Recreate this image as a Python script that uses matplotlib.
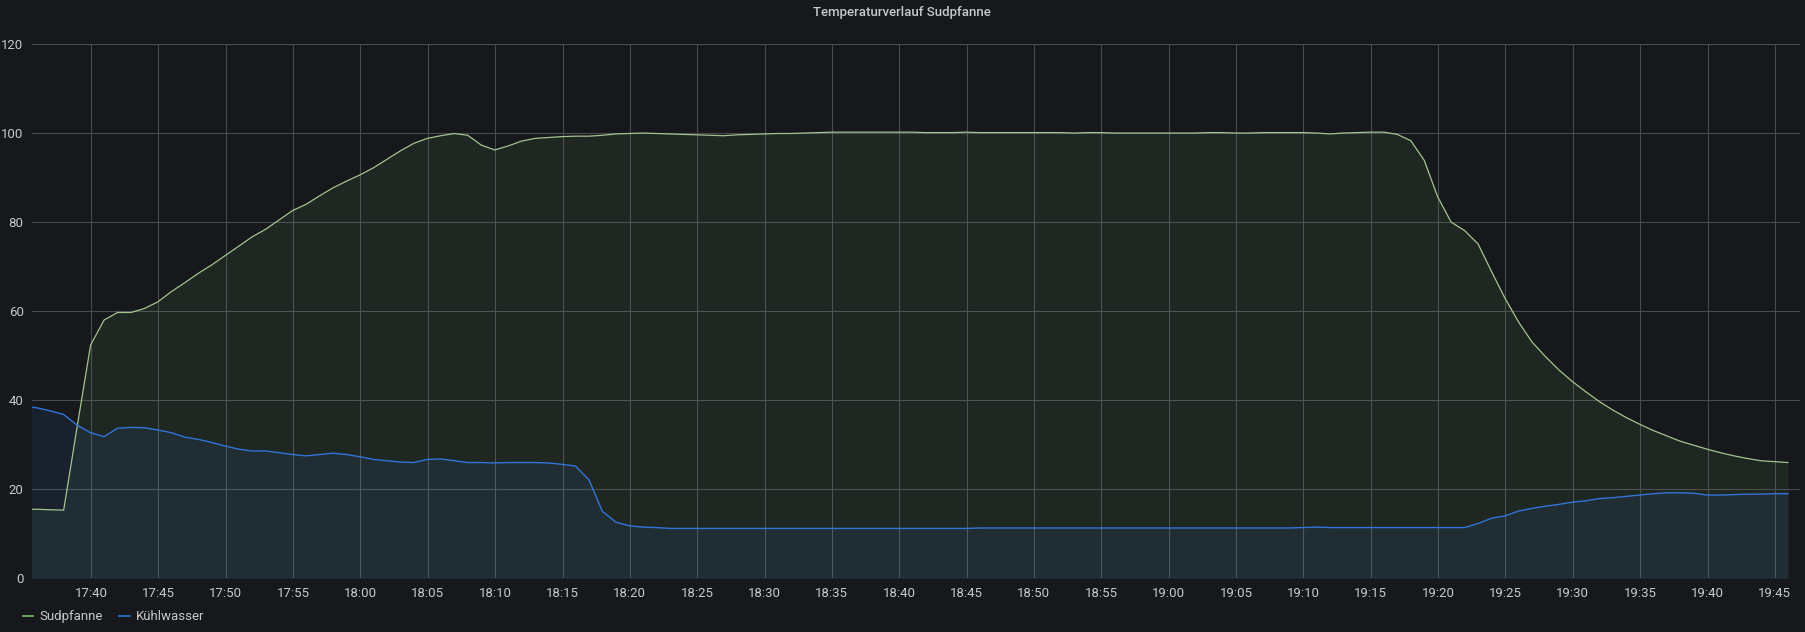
import matplotlib
matplotlib.use('Agg')
import matplotlib.pyplot as plt
import matplotlib.dates as mdates
from matplotlib.lines import Line2D
import pandas as pd

# one sample per minute, 17:34:58 .. 19:45:58
times = pd.date_range('2021-03-20 17:34:58', periods=132, freq='min')

sudpfanne = [
    # 17:35 - 17:59
    15.5, 15.5, 15.4, 15.3, 34.0, 52.4, 58.0, 59.7, 59.7, 60.6,
    62.1, 64.4, 66.4, 68.5, 70.4, 72.5, 74.6, 76.7, 78.4, 80.5,
    82.6, 84.0, 85.9, 87.7, 89.2,
    # 18:00 - 18:59
    90.6, 92.2, 94.1, 96.0, 97.7, 98.8, 99.4, 99.9, 99.5, 97.3,
    96.2, 97.1, 98.2, 98.8, 99.0, 99.2, 99.3, 99.3, 99.5, 99.8,
    99.9, 100.0, 99.9, 99.8, 99.7, 99.6, 99.5, 99.4, 99.6, 99.7,
    99.8, 99.9, 99.9, 100.0, 100.1, 100.2, 100.2, 100.2, 100.2, 100.2,
    100.2, 100.2, 100.1, 100.1, 100.1, 100.2, 100.1, 100.1, 100.1, 100.1,
    100.1, 100.1, 100.1, 100.0, 100.1, 100.1, 100.0, 100.0, 100.0, 100.0,
    # 19:00 - 19:46
    100.0, 100.0, 100.0, 100.1, 100.1, 100.0, 100.0, 100.1, 100.1, 100.1,
    100.1, 100.0, 99.8, 100.0, 100.1, 100.2, 100.2, 99.7, 98.3, 93.9,
    85.7, 80.0, 78.1, 75.1, 68.9, 62.9, 57.6, 53.1, 49.8, 46.8,
    44.2, 41.9, 39.7, 37.8, 36.1, 34.6, 33.2, 32.0, 30.8, 29.9,
    29.0, 28.2, 27.5, 26.9, 26.4, 26.2, 26.0,
]

kuehlwasser = [
    # 17:35 - 17:59
    38.6, 38.3, 37.6, 36.8, 34.4, 32.7, 31.8, 33.7, 33.9, 33.8,
    33.3, 32.7, 31.7, 31.2, 30.5, 29.7, 29.0, 28.6, 28.6, 28.2,
    27.8, 27.5, 27.8, 28.1, 27.8,
    # 18:00 - 18:59
    27.3, 26.7, 26.4, 26.1, 26.0, 26.7, 26.8, 26.4, 26.0, 26.0,
    25.9, 26.0, 26.0, 26.0, 25.9, 25.6, 25.2, 22.1, 15.0, 12.6,
    11.8, 11.5, 11.4, 11.2, 11.2, 11.2, 11.2, 11.2, 11.2, 11.2,
    11.2, 11.2, 11.2, 11.2, 11.2, 11.2, 11.2, 11.2, 11.2, 11.2,
    11.2, 11.2, 11.2, 11.2, 11.2, 11.2, 11.3, 11.3, 11.3, 11.3,
    11.3, 11.3, 11.3, 11.3, 11.3, 11.3, 11.3, 11.3, 11.3, 11.3,
    # 19:00 - 19:46
    11.3, 11.3, 11.3, 11.3, 11.3, 11.3, 11.3, 11.3, 11.3, 11.3,
    11.4, 11.5, 11.4, 11.4, 11.4, 11.4, 11.4, 11.4, 11.4, 11.4,
    11.4, 11.4, 11.4, 12.3, 13.5, 14.0, 15.1, 15.7, 16.2, 16.6,
    17.1, 17.4, 17.9, 18.1, 18.4, 18.7, 19.0, 19.2, 19.2, 19.1,
    18.7, 18.7, 18.8, 18.9, 18.9, 19.0, 19.0,
]

bg = '#17181c'
txt = '#c7c8cf'
green = '#73BF69'
blue = '#3274D9'

plt.rcParams['font.family'] = ['Roboto', 'DejaVu Sans']

fig = plt.figure(figsize=(18.06, 6.32), dpi=100, facecolor=bg)
ax = fig.add_axes([32 / 1806, 1 - 578.3 / 632, 1768 / 1806, 534.3 / 632])
ax.set_facecolor(bg)

ax.fill_between(times, sudpfanne, 0, color=green, alpha=0.09, lw=0)
ax.fill_between(times, kuehlwasser, 0, color=blue, alpha=0.1, lw=0)
ax.plot(times, sudpfanne, color='#a3c48f', lw=0.9)
ax.plot(times, kuehlwasser, color=blue, lw=1.0)

ax.set_xlim(pd.Timestamp('2021-03-20 17:35:37'), pd.Timestamp('2021-03-20 19:46:52'))
ax.set_ylim(0, 120)
ax.set_yticks(range(0, 121, 20))
ax.xaxis.set_major_locator(mdates.MinuteLocator(byminute=range(0, 60, 5)))
ax.xaxis.set_major_formatter(mdates.DateFormatter('%H:%M'))

ax.grid(True, color='#4a4b50', lw=0.8)
ax.set_axisbelow(True)
for s in ax.spines.values():
    s.set_visible(False)
ax.tick_params(length=0, colors=txt, labelsize=9.5)
ax.tick_params(axis='y', pad=6)
ax.tick_params(axis='x', pad=6)

fig.text(0.4993, 0.981, 'Temperaturverlauf Sudpfanne', color=txt,
         fontsize=9.5, fontweight='medium', ha='center', va='center')

handles = [Line2D([], [], color=green, lw=1.2), Line2D([], [], color=blue, lw=1.2)]
fig.legend(handles, ['Sudpfanne', 'Kühlwasser'], loc='center left',
           bbox_to_anchor=(0.006, 0.024), ncol=2, frameon=False,
           handlelength=0.8, handletextpad=0.5, columnspacing=1.2,
           labelcolor=txt, fontsize=9.5)

fig.savefig('out.png', dpi=100, facecolor=bg)
